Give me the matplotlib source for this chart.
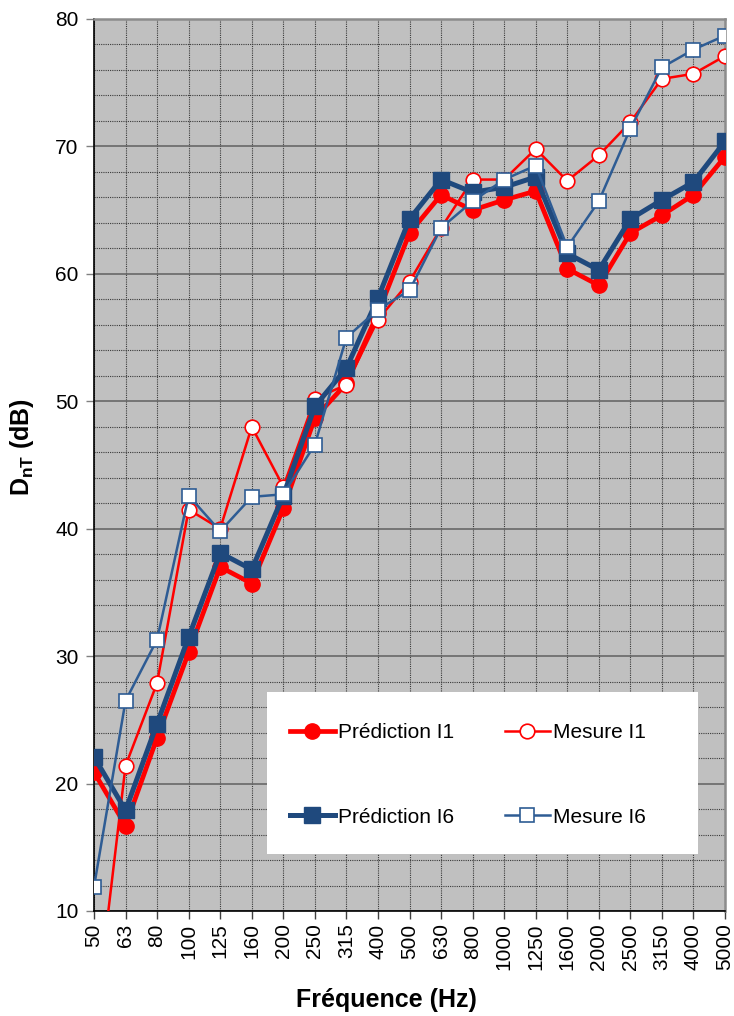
import matplotlib
matplotlib.use("Agg")
import matplotlib.pyplot as plt
from matplotlib.patches import Rectangle
from matplotlib.ticker import MultipleLocator

plt.rcParams['font.family'] = ['Liberation Sans', 'DejaVu Sans']
plt.rcParams['mathtext.fontset'] = 'custom'
plt.rcParams['mathtext.rm'] = 'Liberation Sans'
plt.rcParams['mathtext.bf'] = 'Liberation Sans:bold'

# Third-octave band centre frequencies (Hz)
frequencies = ["50", "63", "80", "100", "125", "160", "200", "250", "315", "400",
               "500", "630", "800", "1000", "1250", "1600", "2000", "2500",
               "3150", "4000", "5000"]

# D_nT (dB) per band
prediction_i1 = [20.9, 16.7, 23.6, 30.3, 37.0, 35.7, 41.6, 48.7, 51.4, 56.9,
                 63.2, 66.2, 65.0, 65.8, 66.5, 60.4, 59.1, 63.2, 64.6, 66.2, 69.2]
mesure_i1 = [0.5, 21.4, 27.9, 41.5, 40.0, 48.0, 43.3, 50.2, 51.3, 56.4,
             59.4, 63.6, 67.4, 67.4, 69.8, 67.3, 69.3, 71.9, 75.3, 75.7, 77.1]
prediction_i6 = [22.1, 17.9, 24.7, 31.5, 38.1, 36.8, 42.6, 49.6, 52.6, 58.1,
                 64.3, 67.4, 66.4, 66.8, 67.6, 61.6, 60.3, 64.3, 65.8, 67.2, 70.4]
mesure_i6 = [11.9, 26.5, 31.3, 42.6, 39.8, 42.5, 42.7, 46.6, 55.0, 57.2,
             58.7, 63.6, 65.7, 67.4, 68.5, 62.1, 65.7, 71.4, 76.2, 77.6, 78.7]

RED = "#FF0000"
BLUE = "#1F497D"
BLUE_LIGHT = "#2E5C94"

fig = plt.figure(figsize=(7.34, 10.16), dpi=100)
ax = fig.add_axes([94 / 734, 1 - 911 / 1016, (725 - 94) / 734, (911 - 19) / 1016])
ax.set_facecolor("#C0C0C0")

x = list(range(len(frequencies)))

ax.plot(x, prediction_i1, color=RED, lw=3.4, marker="o", ms=11,
        mfc=RED, mec=RED, label="Prédiction I1", zorder=3)
ax.plot(x, mesure_i1, color=RED, lw=1.8, marker="o", ms=10.5,
        mfc="white", mec=RED, mew=1.2, label="Mesure I1", zorder=4)
ax.plot(x, prediction_i6, color=BLUE, lw=3.6, marker="s", ms=11.2,
        mfc=BLUE, mec=BLUE, label="Prédiction I6", zorder=5)
ax.plot(x, mesure_i6, color=BLUE_LIGHT, lw=1.8, marker="s", ms=10.5,
        mfc="white", mec=BLUE_LIGHT, mew=1.2, label="Mesure I6", zorder=6)

ax.set_xlim(0, len(frequencies) - 1)
ax.set_ylim(10, 80)
ax.set_xticks(x)
ax.set_xticklabels(frequencies, rotation=90, fontsize=15)
ax.yaxis.set_major_locator(MultipleLocator(10))
ax.yaxis.set_minor_locator(MultipleLocator(2))
ax.tick_params(axis="y", which="major", labelsize=15, length=6, width=1,
               color="#808080", direction="out", pad=5)
ax.tick_params(axis="y", which="minor", length=0)
ax.tick_params(axis="x", which="major", length=6, width=1, color="#404040",
               direction="out", pad=3)

# grid: solid major rows, dotted minor rows and category columns
ax.set_axisbelow(True)
ax.grid(axis="y", which="major", color="#606060", lw=1.1, ls="-")
ax.grid(axis="y", which="minor", color="#3A3A3A", lw=0.8, ls=(0, (1, 1)))
ax.grid(axis="x", which="major", color="#3A3A3A", lw=0.8, ls=(0, (1, 1)))

for side in ("left", "bottom"):
    ax.spines[side].set_color("black")
    ax.spines[side].set_linewidth(1.2)
for side in ("top", "right"):
    ax.spines[side].set_color("#8C8C8C")
    ax.spines[side].set_linewidth(1.8)

# legend box
box_x0 = (267 - 94) / 631
box_y0 = (911 - 854) / 892
box_w = (698 - 267) / 631
box_h = (854 - 692) / 892
ax.add_patch(Rectangle((box_x0, box_y0), box_w, box_h, transform=ax.transAxes,
                       facecolor="white", edgecolor="none", zorder=10))
handles, labels = ax.get_legend_handles_labels()
order = [0, 2, 1, 3]
leg = ax.legend([handles[i] for i in order], [labels[i] for i in order],
                ncol=2, loc="upper left",
                bbox_to_anchor=((290 - 94) / 631, (911 - 723) / 892),
                frameon=False, fontsize=15, handlelength=2.15,
                handletextpad=0.15, columnspacing=2.45, labelspacing=3.15,
                borderpad=0, borderaxespad=0)
leg.set_zorder(11)

fig.text(386 / 734, 1 - 1000 / 1016, "Fréquence (Hz)", ha="center", va="center",
         fontsize=18, fontweight="bold")
fig.text(22 / 734, 1 - 447 / 1016, r"$\mathbf{D}_{\mathbf{nT}}$ (dB)", ha="center",
         va="center", rotation=90, fontsize=18, fontweight="bold")

fig.savefig("out.png", dpi=100)
